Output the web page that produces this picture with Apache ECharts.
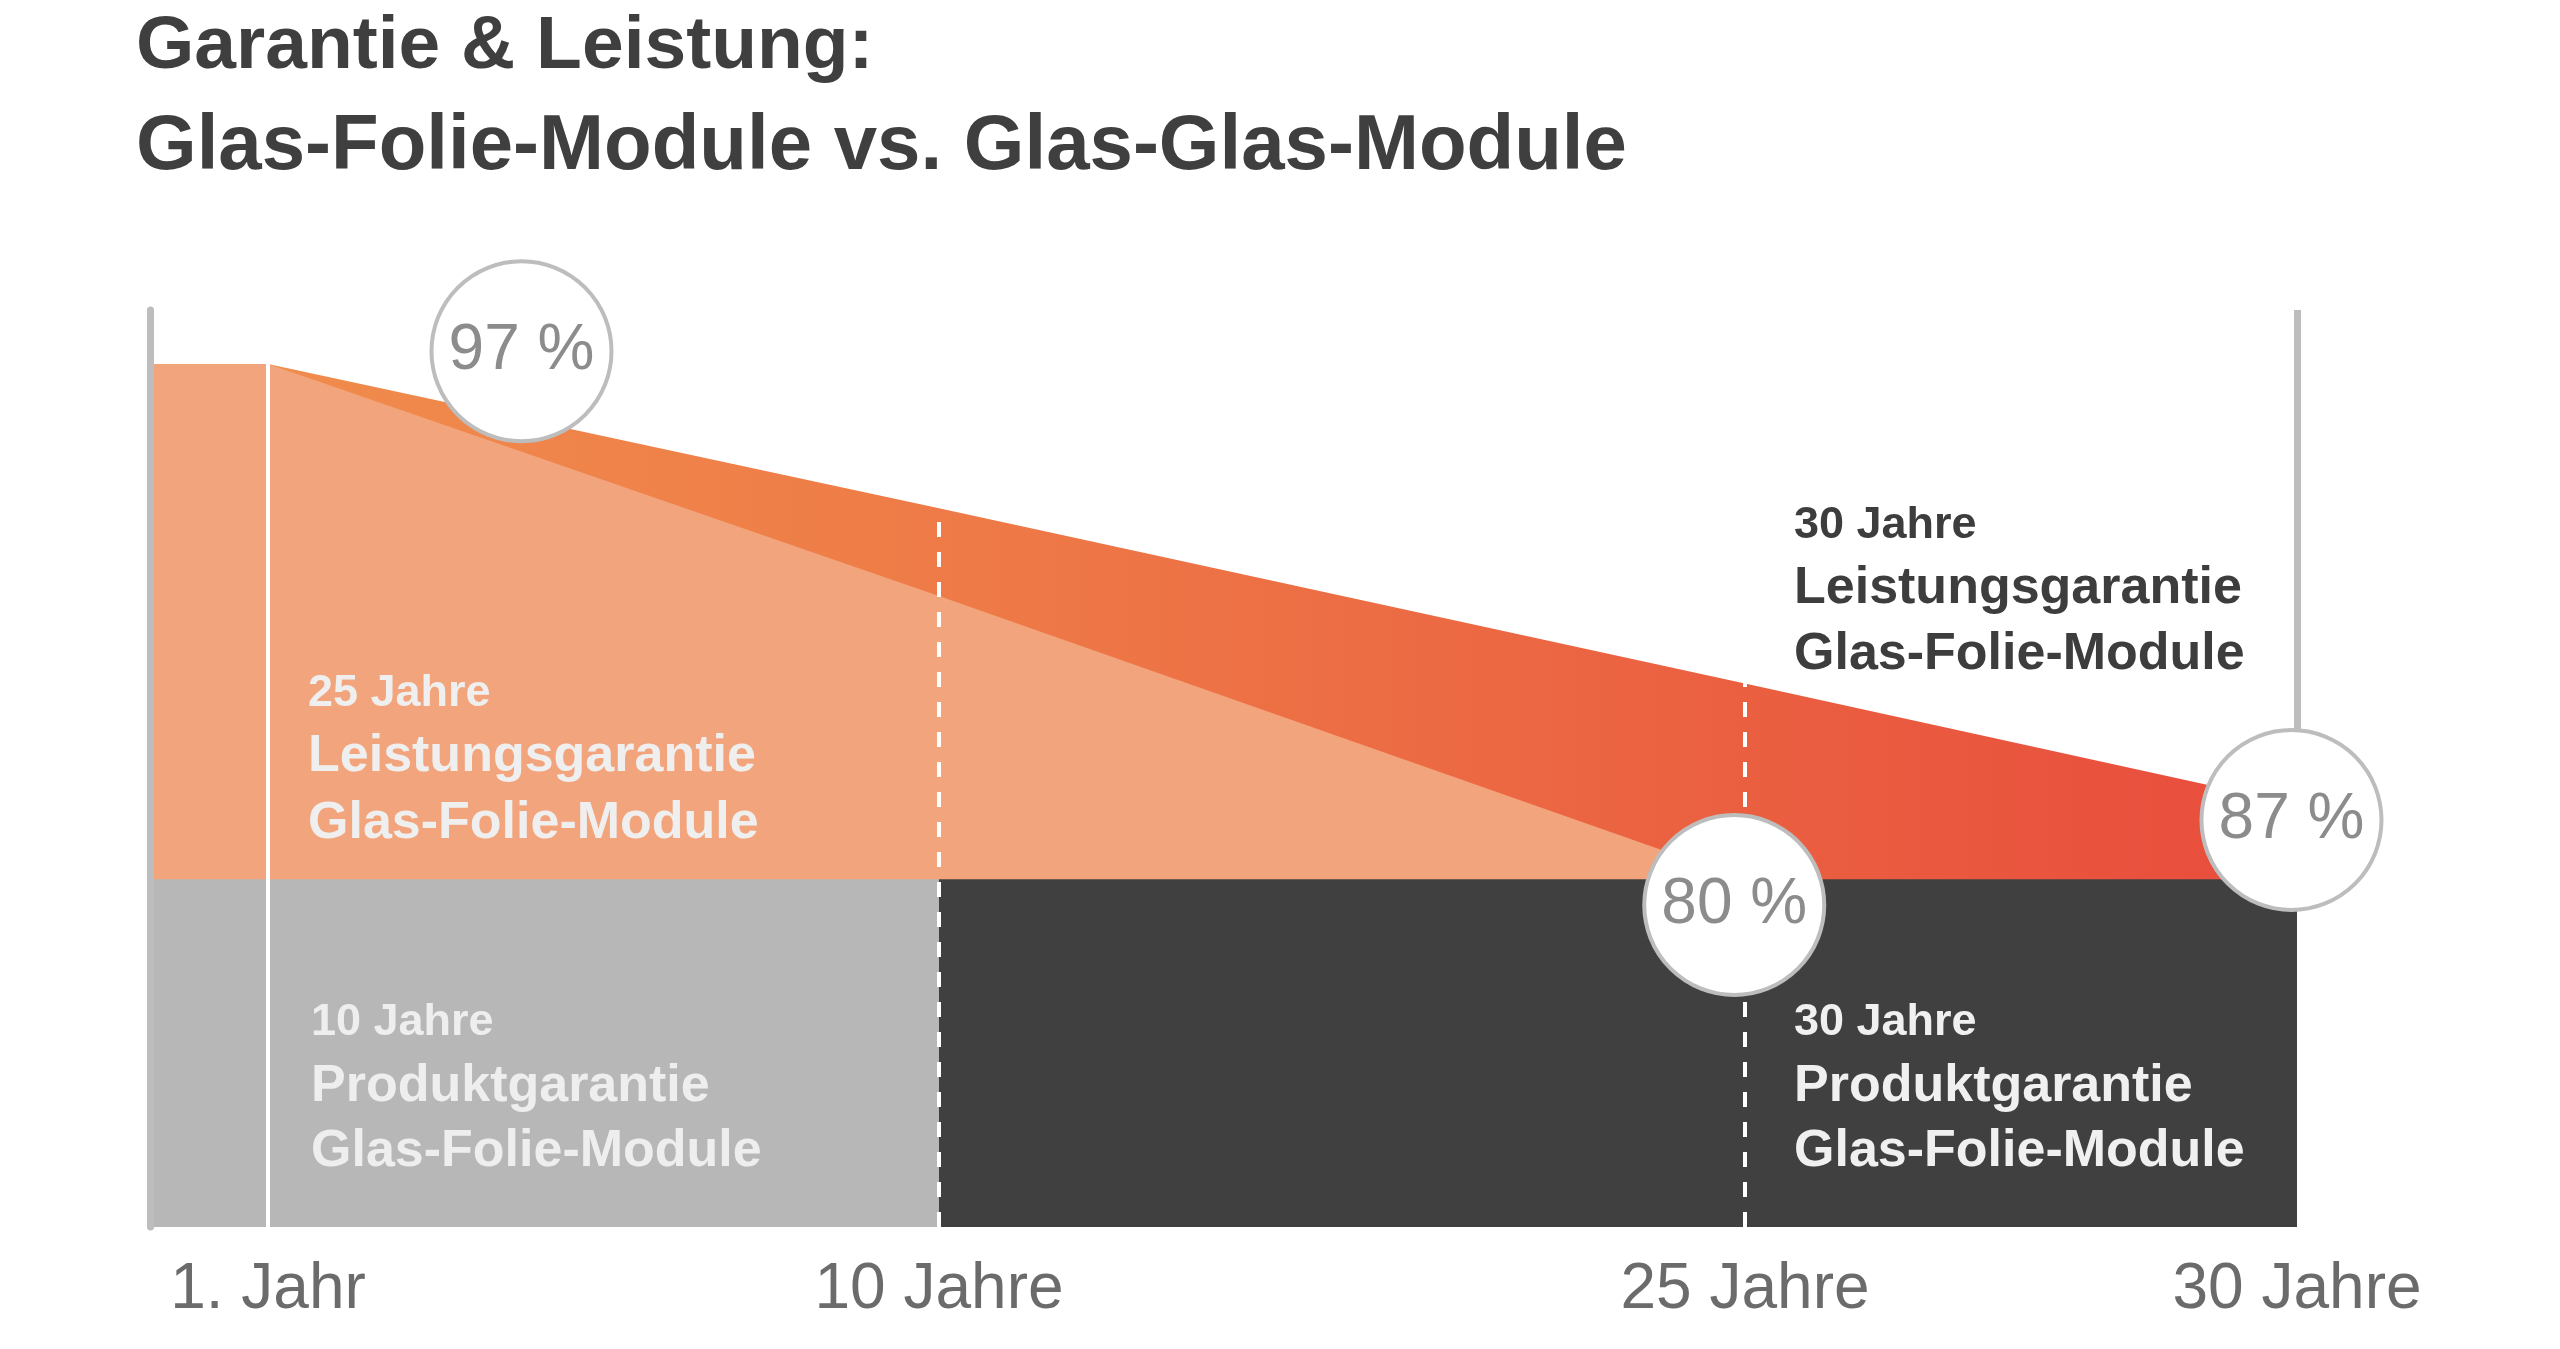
<!DOCTYPE html>
<html><head><meta charset="utf-8">
<script src="https://cdn.jsdelivr.net/npm/echarts@6/dist/echarts.min.js"></script>
<style>html,body{margin:0;padding:0;background:#fff;}#chart{width:2560px;height:1349px;}</style>
</head><body><div id="chart"></div>
<script>
// ---------------- data ----------------
const titleLines = ['Garantie & Leistung:', 'Glas-Folie-Module vs. Glas-Glas-Module'];
const tickYears = [1, 10, 25, 30];
const tickLabels = ['1. Jahr', '10 Jahre', '25 Jahre', '30 Jahre'];
const segmentYears = [[0, 1], [1, 10], [10, 25], [25, 30]];
// upper performance band (30 years, gradient) – drawn level per year
const upperYears = [1, 10, 25, 30];
const upperLevels = [100, 94.4, 87.6, 82.9];
// lower performance band (25 years Glas-Folie)
const lowerYears = [0, 1, 10, 25];
const lowerLevels = [100, 100, 91.0, 80];
// product guarantee bands
const productShortYears = [0, 1, 10];
const productShortLevels = [80, 80, 80];
const productLongYears = [10, 25, 30];
const productLongLevels = [80, 80, 80];
// value badges
const badgeLabels = ['97 %', '80 %', '87 %'];
const badgeYears = [4.4, 24.8, 29.95];
const badgeLevels = [100.5, 79.0, 82.3];
// text blocks
const blockLines = [
  ['25 Jahre', 'Leistungsgarantie', 'Glas-Folie-Module'],
  ['30 Jahre', 'Leistungsgarantie', 'Glas-Folie-Module'],
  ['10 Jahre', 'Produktgarantie', 'Glas-Folie-Module'],
  ['30 Jahre', 'Produktgarantie', 'Glas-Folie-Module']
];

// ---------------- layout ----------------
const FAM = '"Liberation Sans", Arial, sans-serif';
const gridEdges = [150.5, 268, 939, 1745, 2297];
const gridTop = 310, gridHeight = 917;
const yMin = 66.5, yMax = 102.1;

function pointsIn(xs, ys, seg) {
  const out = [];
  for (let i = 0; i < xs.length; i++) if (xs[i] >= seg[0] && xs[i] <= seg[1]) out.push([xs[i], ys[i]]);
  return out;
}
function segOf(x) {
  for (let i = 0; i < segmentYears.length; i++) {
    const s = segmentYears[i];
    if (x >= s[0] && (x < s[1] || i === segmentYears.length - 1)) return i;
  }
  return segmentYears.length - 1;
}

const grids = [], xAxes = [], yAxes = [], series = [];
const gradient = {
  type: 'linear', x: 268, y: 0, x2: 2297, y2: 0, global: true,
  colorStops: [
    { offset: 0, color: '#F08C4C' },
    { offset: 0.35, color: '#EE7A47' },
    { offset: 1, color: '#E84C3C' }
  ]
};

segmentYears.forEach((seg, i) => {
  grids.push({ left: gridEdges[i], top: gridTop, width: gridEdges[i + 1] - gridEdges[i], height: gridHeight });
  const ticks = tickYears.filter(t => segOf(t) === i);
  xAxes.push({
    gridIndex: i, type: 'value', min: seg[0], max: seg[1],
    axisLine: { show: false }, axisTick: { show: false }, splitLine: { show: false },
    axisLabel: {
      show: ticks.length > 0, customValues: ticks, margin: 31,
      formatter: v => tickLabels[tickYears.indexOf(v)] || '',
      fontSize: 64, color: '#6b6b6b', fontFamily: FAM
    }
  });
  yAxes.push({
    gridIndex: i, type: 'value', min: yMin, max: yMax, z: 5,
    show: i === 0,
    axisLine: { show: i === 0, lineStyle: { color: '#bdbdbd', width: 7 } },
    axisTick: { show: false }, axisLabel: { show: false }, splitLine: { show: false }
  });

  const area = (data, color, z, extra) => Object.assign({
    type: 'line', xAxisIndex: i, yAxisIndex: i, data, symbol: 'none', showSymbol: false,
    lineStyle: { width: 0 }, areaStyle: { color, opacity: 1, origin: 'start' },
    z, silent: true, clip: false, animation: false
  }, extra || {});

  const up = pointsIn(upperYears, upperLevels, seg);
  if (up.length > 1) series.push(area(up, gradient, 1));
  const lo = pointsIn(lowerYears, lowerLevels, seg);
  if (lo.length > 1) series.push(area(lo, '#F2A47C', 2));
  const ps = pointsIn(productShortYears, productShortLevels, seg);
  if (ps.length > 1) {
    const extra = {};
    if (i === 1) extra.markLine = {
      silent: true, symbol: ['none', 'none'], label: { show: false }, animation: false,
      lineStyle: { color: '#ffffff', width: 4, type: 'solid' },
      data: [{ xAxis: tickYears[0] }]
    };
    series.push(area(ps, '#B7B7B7', 3, extra));
  }
  const pl = pointsIn(productLongYears, productLongLevels, seg);
  if (pl.length > 1) {
    const extra = {};
    if (i === 2) extra.markLine = {
      silent: true, symbol: ['none', 'none'], label: { show: false }, animation: false,
      lineStyle: { color: '#ffffff', width: 4, type: [15, 15] },
      data: [{ xAxis: tickYears[1] }, { xAxis: tickYears[2] }]
    };
    if (i === 3) extra.markLine = {
      silent: true, symbol: ['none', 'none'], label: { show: false }, animation: false,
      lineStyle: { color: '#bdbdbd', width: 7, type: 'solid' },
      data: [[{ coord: [tickYears[3], yMax] }, { coord: [tickYears[3], badgeLevels[2]] }]]
    };
    series.push(area(pl, '#404040', 3, extra));
  }
  const badges = [];
  badgeYears.forEach((bx, k) => { if (segOf(bx) === i) badges.push({ value: [bx, badgeLevels[k]], name: badgeLabels[k] }); });
  if (badges.length) series.push({
    type: 'scatter', xAxisIndex: i, yAxisIndex: i, data: badges, symbol: 'circle', symbolSize: 180,
    itemStyle: { color: '#ffffff', borderColor: '#bdbdbd', borderWidth: 4, opacity: 1 },
    label: { show: true, position: 'inside', formatter: '{b}', fontSize: 64, color: '#8c8c8c', fontFamily: FAM },
    z: 10, silent: true, clip: false, animation: false
  });
});

// text blocks
const blockPos = [
  { x: 308, ys: [694, 757, 824], color: '#EFEFEF' },
  { x: 1794, ys: [526, 589, 655], color: '#3D3D3D' },
  { x: 311, ys: [1023, 1087, 1152], color: '#EEEEEE' },
  { x: 1794, ys: [1023, 1087, 1152], color: '#F0F0F0' }
];
const graphics = [];
blockLines.forEach((lines, b) => {
  lines.forEach((t, k) => {
    graphics.push({
      type: 'text', z: 100, silent: true,
      style: {
        text: t, x: blockPos[b].x, y: blockPos[b].ys[k],
        font: 'bold ' + (k === 0 ? 45 : 52) + 'px ' + FAM,
        fill: blockPos[b].color, textAlign: 'left', textVerticalAlign: 'middle'
      }
    });
  });
});

const chart = echarts.init(document.getElementById('chart'), null, { renderer: 'canvas' });
chart.setOption({
  animation: false,
  backgroundColor: '#ffffff',
  title: [
    { text: titleLines[0], left: 136, top: 10, padding: 0, textStyle: { fontSize: 75, fontWeight: 'bold', color: '#3f3f3f', fontFamily: FAM } },
    { text: titleLines[1], left: 136, top: 108, padding: 0, textStyle: { fontSize: 78, fontWeight: 'bold', color: '#3f3f3f', fontFamily: FAM } }
  ],
  grid: grids, xAxis: xAxes, yAxis: yAxes, series,
  graphic: graphics
});
</script></body></html>
